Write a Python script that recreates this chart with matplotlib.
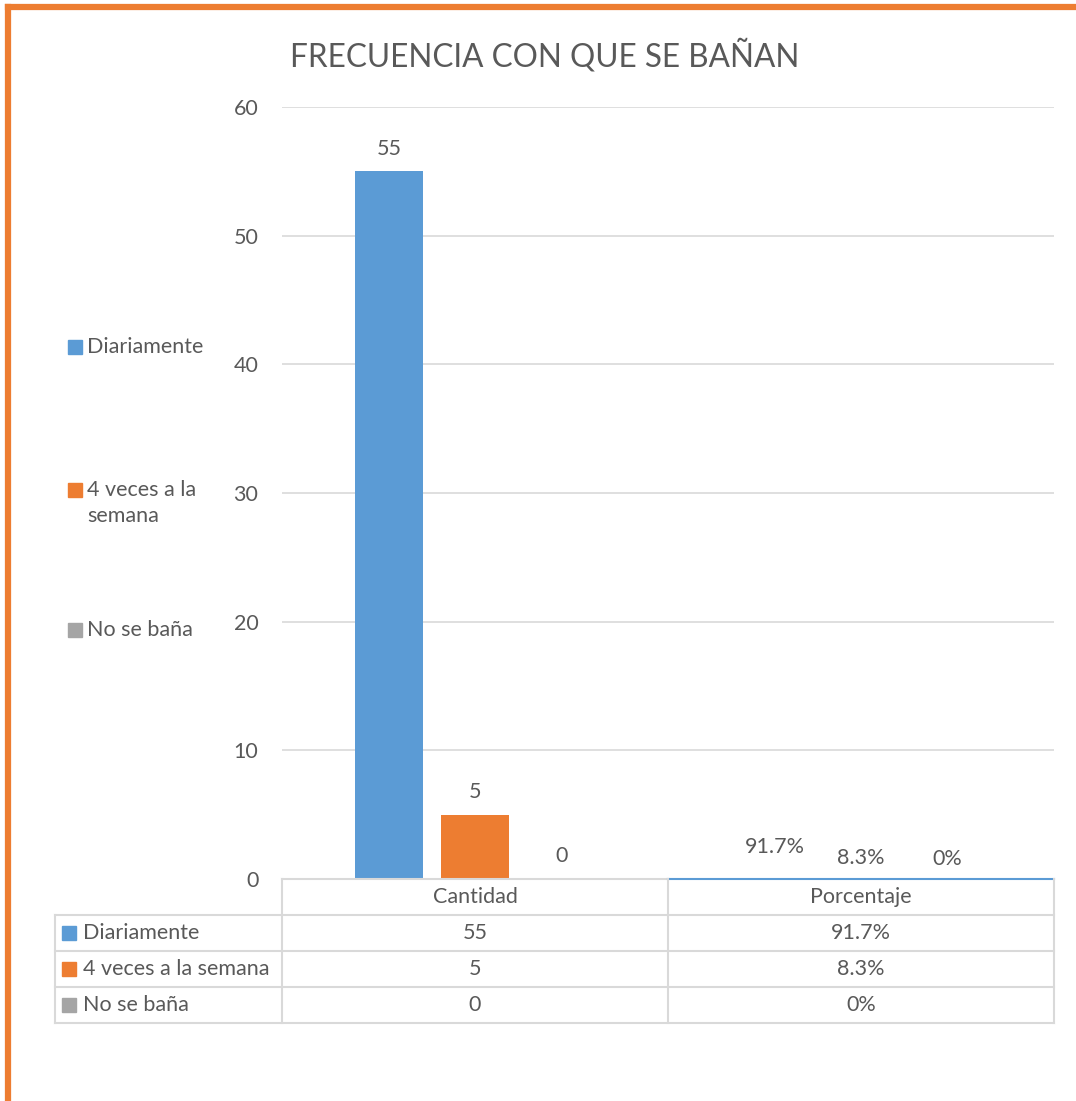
import matplotlib.pyplot as plt
from matplotlib.patches import Rectangle
from matplotlib.lines import Line2D

plt.rcParams['font.family'] = ['Lato', 'DejaVu Sans']

categories = ['Cantidad', 'Porcentaje']
series = ['Diariamente', '4 veces a la semana', 'No se baña']
legend_labels = ['Diariamente', '4 veces a la\nsemana', 'No se baña']
cantidad = [55, 5, 0]
porcentaje = [91.7, 8.3, 0]
pct_labels = ['91.7%', '8.3%', '0%']
colors = ['#5b9bd5', '#ed7d31', '#a5a5a5']
yticks = [0, 10, 20, 30, 40, 50, 60]

W, H = 1076, 1101
txt = '#595959'
grid = '#d9d9d9'
fs = 15.5

fig = plt.figure(figsize=(W / 100, H / 100), dpi=100)

def fx(px):
    return px / W

def fy(py):
    return 1 - py / H

# orange frame (top and left only visible)
fig.add_artist(Line2D([fx(8), fx(W)], [fy(7), fy(7)], color='#ed7d31', lw=4.5))
fig.add_artist(Line2D([fx(8), fx(8)], [fy(7), 0], color='#ed7d31', lw=4.5))

ax = fig.add_axes([fx(282), fy(879), fx(1054) - fx(282), fy(107) - fy(879)])
ax.set_xlim(-0.5, 1.5)
ax.set_ylim(0, 60)
ax.set_yticks(yticks)
ax.yaxis.grid(True, color=grid, lw=1.2)
ax.set_axisbelow(True)
for s in ax.spines.values():
    s.set_visible(False)
ax.tick_params(axis='y', length=0, pad=17, labelsize=fs, labelcolor=txt)
ax.set_xticks([])

offs = [-0.223, 0, 0.223]
wid = 0.174
for i in range(3):
    ax.bar(offs[i], cantidad[i], width=wid, color=colors[i], zorder=2)
    ax.annotate(str(cantidad[i]), (offs[i], cantidad[i]), xytext=(0, 9),
                textcoords='offset points', ha='center', va='bottom',
                fontsize=fs, color=txt)
    ax.annotate(pct_labels[i], (1 + offs[i], porcentaje[i] / 100),
                xytext=(0, 7), textcoords='offset points', ha='center',
                va='bottom', fontsize=fs, color=txt)

fig.text(fx(545), fy(56), 'FRECUENCIA CON QUE SE BAÑAN', ha='center',
         va='center', fontsize=22.7, color=txt)

# legend on the left
leg_y = [347, 490, 630]
for i in range(3):
    fig.add_artist(Rectangle((fx(68), fy(leg_y[i] + 7)), fx(14), 14 / H,
                             color=colors[i]))
    fig.text(fx(87), fy(leg_y[i] - 10), legend_labels[i], ha='left', va='top',
             fontsize=fs, color=txt, linespacing=1.4)

# data table
lc = '#d9d9d9'
fig.add_artist(Line2D([fx(282), fx(668)], [fy(879), fy(879)], color=lc, lw=1.5))
fig.add_artist(Line2D([fx(668), fx(1054)], [fy(879), fy(879)], color='#5b9bd5', lw=1.5))
for yy in [915, 951, 987, 1023]:
    fig.add_artist(Line2D([fx(55), fx(1054)], [fy(yy), fy(yy)], color=lc, lw=1.5))
for xx, top in [(55, 915), (282, 879), (668, 879), (1054, 879)]:
    fig.add_artist(Line2D([fx(xx), fx(xx)], [fy(top), fy(1023)], color=lc, lw=1.5))

col_x = [475, 861]
for j, c in enumerate(categories):
    fig.text(fx(col_x[j]), fy(897), c, ha='center', va='center', fontsize=fs, color=txt)
row_y = [933, 969, 1005]
for i in range(3):
    fig.add_artist(Rectangle((fx(62), fy(row_y[i] + 7)), fx(14), 14 / H,
                             color=colors[i]))
    fig.text(fx(83), fy(row_y[i]), series[i], ha='left', va='center',
             fontsize=fs, color=txt)
    fig.text(fx(col_x[0]), fy(row_y[i]), str(cantidad[i]), ha='center',
             va='center', fontsize=fs, color=txt)
    fig.text(fx(col_x[1]), fy(row_y[i]), pct_labels[i], ha='center',
             va='center', fontsize=fs, color=txt)

fig.savefig('out.png', dpi=100)
